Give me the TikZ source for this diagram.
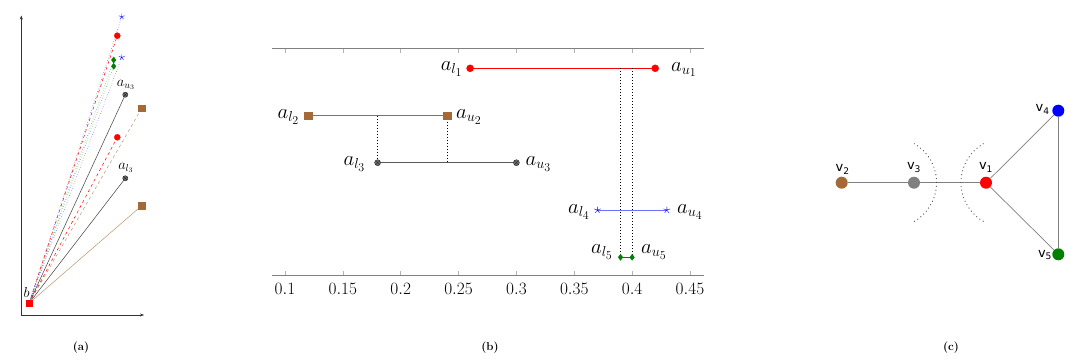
\documentclass[tikz,border=0pt]{standalone}
\usepackage{fontspec}
\newfontfamily\vfont{DejaVu Sans}
\usetikzlibrary{plotmarks,arrows.meta}
\definecolor{mybrown}{RGB}{165,105,55}
\definecolor{lbrown}{RGB}{190,150,110}
\definecolor{mygreen}{RGB}{0,128,0}
\definecolor{mygray}{RGB}{128,128,128}
\definecolor{lblue}{RGB}{110,110,255}
\tikzset{
  axisline/.style={draw=mygray, line width=1.2pt},
  tickline/.style={draw=mygray!60, line width=0.5pt},
  axarrow/.style={draw=black!80, line width=0.5pt, -{Stealth[length=4pt,width=3pt]}},
  ray/.style={line width=0.5pt},
  vdots/.style={draw=black, line width=1pt, dash pattern=on 1pt off 2pt},
  lbl/.style={font=\fontsize{20.74}{24}\selectfont, inner sep=0pt},
  slbl/.style={font=\fontsize{14.4}{16}\selectfont, inner sep=0pt},
  ticklbl/.style={font=\fontsize{17.28}{20}\selectfont, inner sep=0pt},
  vnode/.style={circle, minimum size=12pt, inner sep=0pt},
  vlbl/.style={font=\vfont\fontsize{13}{15}\selectfont, inner sep=0pt},
  edge/.style={draw=mygray, line width=0.7pt},
  cutarc/.style={draw=black!70, line width=0.9pt, dash pattern=on 0.9pt off 3pt},
  captxt/.style={font=\bfseries\fontsize{11.5}{13}\selectfont, inner sep=0pt},
  mred/.style={mark=*, mark size=3.5pt, mark options={solid, fill=red, draw=red}},
  mbrown/.style={mark=square*, mark size=3.8pt, mark options={solid, fill=mybrown, draw=mybrown}},
  mblack/.style={mark=otimes*, mark size=3pt, mark options={solid, fill=black!55, draw=black!85}},
  mblue/.style={mark=star, mark size=3.5pt, mark options={solid, draw=blue}},
  mgreen/.style={mark=diamond*, mark size=3.5pt, mark options={solid, fill=mygreen, draw=mygreen}},
}
\begin{document}
\begin{tikzpicture}[x=1pt,y=-1pt]
\useasboundingbox[fill=white] (0,0) rectangle (1080,362);

% ---------------- (a) ----------------
\coordinate (ao) at (21.3,315);
\coordinate (ay) at (21.3,15.5);
\coordinate (ax) at (144,315);
\draw[axarrow] (ao) -- (ay);
\draw[axarrow] (ao) -- (ax);

\coordinate (b) at (29,303.3);
\coordinate (s1) at (121.7,16.7);
\coordinate (r1) at (117.3,35.7);
\coordinate (s2) at (121.7,57.3);
\coordinate (g1) at (113.7,60);
\coordinate (g2) at (113.7,66.3);
\coordinate (k1) at (125.3,94.7);
\coordinate (n1) at (141.7,108.3);
\coordinate (r2) at (117.3,137.3);
\coordinate (k2) at (125.3,178.3);
\coordinate (n2) at (141.7,205.7);

\draw[ray, lbrown] (b) -- (n2);
\draw[ray, black!75] (b) -- (k2);
\draw[ray, lbrown, dashed] (b) -- (n1);
\draw[ray, red, dashed] (b) -- (r2);
\draw[ray, black!75] (b) -- (k1);
\draw[ray, mygreen!70, dotted] (b) -- (g2);
\draw[ray, mygreen!70, dotted] (b) -- (g1);
\draw[ray, blue!70, dotted] (b) -- (s2);
\draw[ray, red, dashed] (b) -- (r1);
\draw[ray, blue!70, dotted] (b) -- (s1);

\path[mblue, mark size=3pt] plot[only marks] coordinates {(s1) (s2)};
\path[mred, mark size=3pt] plot[only marks] coordinates {(r1) (r2)};
\path[mgreen, mark size=3pt] plot[only marks] coordinates {(g1) (g2)};
\path[mblack, mark size=2.6pt] plot[only marks] coordinates {(k1) (k2)};
\path[mbrown, mark size=3.2pt] plot[only marks] coordinates {(n1) (n2)};
\path[mark=square*, mark size=3.2pt, mark options={fill=red, draw=red}] plot[only marks] coordinates {(b)};

\node[slbl] (lb) at (26.5,292) {$b$};
\node[slbl] (lu3a) at (126,85) {$a_{u_3}$};
\node[slbl] (ll3a) at (126,168) {$a_{l_3}$};

% ---------------- (b) ----------------
\coordinate (tl) at (272,48.5);
\coordinate (tr) at (704,48.5);
\coordinate (bl) at (272,275.7);
\coordinate (br) at (704,275.7);
\foreach \t/\x in {0.1/285,0.15/342.85,0.2/400.7,0.25/458.55,0.3/516.4,0.35/574.25,0.4/632.1,0.45/689.95}{
  \draw[tickline] (\x,48.5) -- (\x,53);
  \draw[tickline] (\x,275.7) -- (\x,271.2);
  \node[ticklbl] (t\t) at (\x,289) {$\t$};
}
\draw[axisline] (tl) -- (tr);
\draw[axisline] (bl) -- (br);

\coordinate (l1) at (470.1,68.3);
\coordinate (u1) at (655.2,68.3);
\coordinate (l2) at (308.1,115.7);
\coordinate (u2) at (447.0,115.7);
\coordinate (l3) at (377.6,162.7);
\coordinate (u3) at (516.4,162.7);
\coordinate (l4) at (597.4,210);
\coordinate (u4) at (666.8,210);
\coordinate (l5) at (620.5,257.3);
\coordinate (u5) at (632.1,257.3);
\coordinate (p2) at (377.6,115.7);
\coordinate (p3) at (447.0,162.7);
\coordinate (p1a) at (620.5,68.3);
\coordinate (p1b) at (632.1,68.3);

\draw[red, line width=0.8pt] (l1) -- (u1);
\draw[mybrown, line width=0.6pt] (l2) -- (u2);
\draw[black!65, line width=0.7pt] (l3) -- (u3);
\draw[lblue, line width=1pt] (l4) -- (u4);
\draw[mygreen, line width=1pt] (l5) -- (u5);

\draw[vdots] (p2) -- (l3);
\draw[vdots] (u2) -- (p3);
\draw[vdots] (p1a) -- (l5);
\draw[vdots] (p1b) -- (u5);

\path[mred] plot[only marks] coordinates {(l1) (u1)};
\path[mbrown] plot[only marks] coordinates {(l2) (u2)};
\path[mblack] plot[only marks] coordinates {(l3) (u3)};
\path[mblue] plot[only marks] coordinates {(l4) (u4)};
\path[mgreen, mark size=3pt] plot[only marks] coordinates {(l5) (u5)};

\node[lbl] (al1) at (451.7,69) {$a_{l_1}$};
\node[lbl] (au1) at (684,69.5) {$a_{u_1}$};
\node[lbl] (al2) at (288.5,117) {$a_{l_2}$};
\node[lbl] (au2) at (469,117) {$a_{u_2}$};
\node[lbl] (al3) at (354.5,164) {$a_{l_3}$};
\node[lbl] (au3) at (538.5,164) {$a_{u_3}$};
\node[lbl] (al4) at (579,212) {$a_{l_4}$};
\node[lbl] (au4) at (690,212) {$a_{u_4}$};
\node[lbl] (al5) at (602,252) {$a_{l_5}$};
\node[lbl] (au5) at (654,252) {$a_{u_5}$};

% ---------------- (c) ----------------
\node[vnode, fill=mybrown] (v2) at (841.7,182.7) {};
\node[vnode, fill=mygray] (v3) at (914,182.7) {};
\node[vnode, fill=red] (v1) at (986,182.7) {};
\node[vnode, fill=blue] (v4) at (1058.3,110.7) {};
\node[vnode, fill=mygreen] (v5) at (1058.3,254.3) {};
\draw[edge] (v2) -- (v3);
\draw[edge] (v3) -- (v1);
\draw[edge] (v1) -- (v4);
\draw[edge] (v1) -- (v5);
\draw[edge] (v4) -- (v5);
\coordinate (c1) at (914.1,221.5);
\coordinate (c2) at (983.5,221.5);
\draw[cutarc] (c1) arc[start angle=60, end angle=-60, radius=45];
\draw[cutarc] (c2) arc[start angle=120, end angle=240, radius=45];

\node[vlbl] (lv2) at (842.7,169.3) {v\textsubscript{2}};
\node[vlbl] (lv3) at (914,167.3) {v\textsubscript{3}};
\node[vlbl] (lv1) at (986,167.3) {v\textsubscript{1}};
\node[vlbl] (lv4) at (1042.7,109.3) {v\textsubscript{4}};
\node[vlbl] (lv5) at (1045,255) {v\textsubscript{5}};

% ---------------- captions ----------------
\node[captxt] (capa) at (81,347.5) {(a)};
\node[captxt] (capb) at (490,347.5) {(b)};
\node[captxt] (capc) at (951,347.5) {(c)};
\end{tikzpicture}
\end{document}
